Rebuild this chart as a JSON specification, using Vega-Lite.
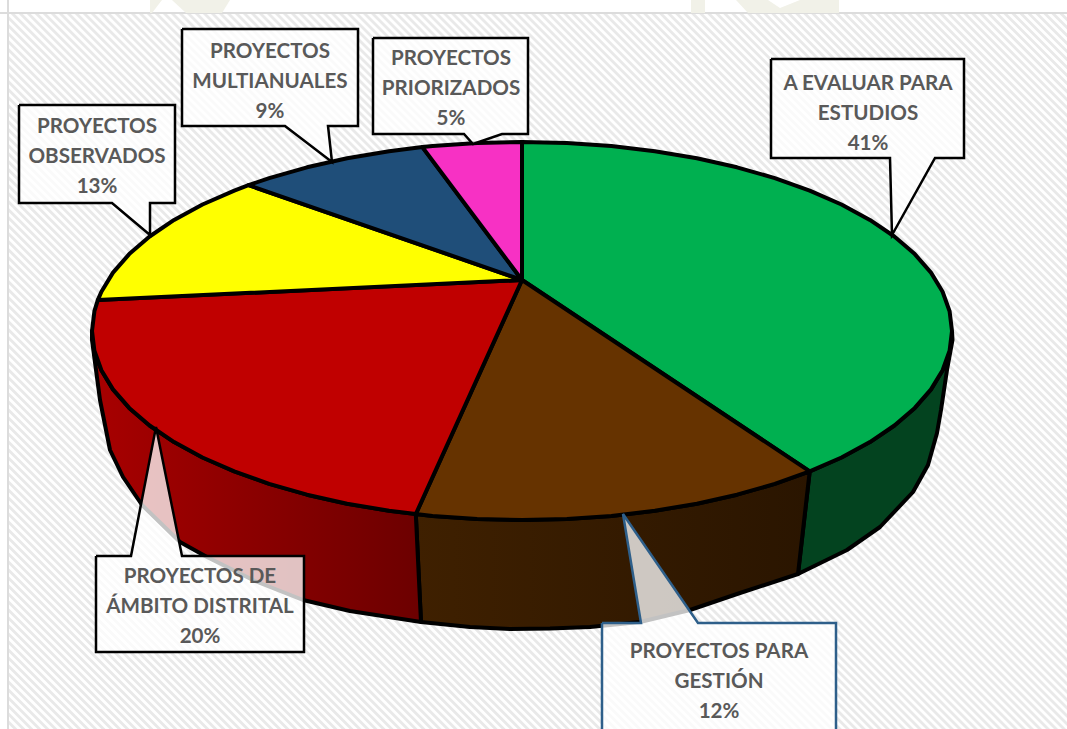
{"$schema":"https://vega.github.io/schema/vega-lite/v6.json","width":1067,"height":729,"padding":0,"autosize":"none","background":"white","view":{"stroke":null},
"config":{"axis":{"domain":false}},
"datasets":{
"hatch":[{"x":-400,"y":1100,"x2":1500,"y2":-800}],
"margin":[{"x":0,"x2":1067,"y":0,"y2":13},{"x":0,"x2":8,"y":0,"y2":729}],
"ghost":[{"g":"a","i":0,"x":150,"y":0},{"g":"a","i":1,"x":162,"y":0},{"g":"a","i":2,"x":152,"y":13},{"g":"a","i":3,"x":150,"y":13},{"g":"b","i":0,"x":172,"y":0},{"g":"b","i":1,"x":230,"y":0},{"g":"b","i":2,"x":222,"y":13},{"g":"b","i":3,"x":186,"y":13},{"g":"c","i":0,"x":691,"y":0},{"g":"c","i":1,"x":705,"y":0},{"g":"c","i":2,"x":705,"y":13},{"g":"c","i":3,"x":691,"y":13},{"g":"d","i":0,"x":736,"y":0},{"g":"d","i":1,"x":768,"y":0},{"g":"d","i":2,"x":780,"y":8},{"g":"d","i":3,"x":800,"y":0},{"g":"d","i":4,"x":839,"y":0},{"g":"d","i":5,"x":839,"y":13},{"g":"d","i":6,"x":748,"y":13}],
"walls":[
{"w":"green","i":0,"x":952,"y":331},{"w":"green","i":1,"x":949.6,"y":350.8},{"w":"green","i":2,"x":942.6,"y":370.3},{"w":"green","i":3,"x":931,"y":389.4},{"w":"green","i":4,"x":914.8,"y":407.9},{"w":"green","i":5,"x":894.4,"y":425.5},{"w":"green","i":6,"x":869.9,"y":442.1},{"w":"green","i":7,"x":841.5,"y":457.5},{"w":"green","i":8,"x":809.7,"y":471.4},{"w":"green","i":9,"x":798,"y":574},{"w":"green","i":10,"x":847,"y":550},{"w":"green","i":11,"x":880,"y":527},{"w":"green","i":12,"x":913,"y":492},{"w":"green","i":13,"x":928,"y":465},{"w":"green","i":14,"x":937,"y":433},{"w":"green","i":15,"x":941,"y":410},{"w":"green","i":16,"x":947,"y":370},{"w":"green","i":17,"x":952.5,"y":340},{"w":"green","i":18,"x":952,"y":331},
{"w":"brown","i":0,"x":809.7,"y":471.4},{"w":"brown","i":1,"x":774.8,"y":483.9},{"w":"brown","i":2,"x":737,"y":494.7},{"w":"brown","i":3,"x":696.9,"y":503.7},{"w":"brown","i":4,"x":654.9,"y":510.8},{"w":"brown","i":5,"x":611.4,"y":515.9},{"w":"brown","i":6,"x":566.9,"y":519},{"w":"brown","i":7,"x":522,"y":520},{"w":"brown","i":8,"x":477.1,"y":519},{"w":"brown","i":9,"x":432.6,"y":515.9},{"w":"brown","i":10,"x":415.8,"y":514.1},{"w":"brown","i":11,"x":421,"y":622},{"w":"brown","i":12,"x":470,"y":627},{"w":"brown","i":13,"x":510,"y":629},{"w":"brown","i":14,"x":550,"y":628.5},{"w":"brown","i":15,"x":590,"y":627},{"w":"brown","i":16,"x":640,"y":622},{"w":"brown","i":17,"x":690,"y":610},{"w":"brown","i":18,"x":740,"y":593},{"w":"brown","i":19,"x":798,"y":574},{"w":"brown","i":20,"x":809.7,"y":471.4},
{"w":"red","i":0,"x":415.8,"y":514.1},{"w":"red","i":1,"x":389.1,"y":510.8},{"w":"red","i":2,"x":347.1,"y":503.7},{"w":"red","i":3,"x":307,"y":494.7},{"w":"red","i":4,"x":269.2,"y":483.9},{"w":"red","i":5,"x":234.3,"y":471.4},{"w":"red","i":6,"x":202.5,"y":457.5},{"w":"red","i":7,"x":174.1,"y":442.1},{"w":"red","i":8,"x":149.6,"y":425.5},{"w":"red","i":9,"x":129.2,"y":407.9},{"w":"red","i":10,"x":113,"y":389.4},{"w":"red","i":11,"x":101.4,"y":370.3},{"w":"red","i":12,"x":94.4,"y":350.8},{"w":"red","i":13,"x":92,"y":331},{"w":"red","i":14,"x":92,"y":340},{"w":"red","i":15,"x":100,"y":400},{"w":"red","i":16,"x":110,"y":450},{"w":"red","i":17,"x":123,"y":477},{"w":"red","i":18,"x":142,"y":505},{"w":"red","i":19,"x":180,"y":542},{"w":"red","i":20,"x":207,"y":557},{"w":"red","i":21,"x":255,"y":581},{"w":"red","i":22,"x":303,"y":600},{"w":"red","i":23,"x":350,"y":611},{"w":"red","i":24,"x":421,"y":622},{"w":"red","i":25,"x":415.8,"y":514.1}],
"slices":[
{"s":"A EVALUAR PARA ESTUDIOS","i":0,"x":522,"y":280},{"s":"A EVALUAR PARA ESTUDIOS","i":1,"x":522,"y":142},{"s":"A EVALUAR PARA ESTUDIOS","i":2,"x":566.9,"y":143},{"s":"A EVALUAR PARA ESTUDIOS","i":3,"x":611.4,"y":146.1},{"s":"A EVALUAR PARA ESTUDIOS","i":4,"x":654.9,"y":151.2},{"s":"A EVALUAR PARA ESTUDIOS","i":5,"x":696.9,"y":158.3},{"s":"A EVALUAR PARA ESTUDIOS","i":6,"x":737,"y":167.3},{"s":"A EVALUAR PARA ESTUDIOS","i":7,"x":774.8,"y":178.1},{"s":"A EVALUAR PARA ESTUDIOS","i":8,"x":809.7,"y":190.6},{"s":"A EVALUAR PARA ESTUDIOS","i":9,"x":841.5,"y":204.5},{"s":"A EVALUAR PARA ESTUDIOS","i":10,"x":869.9,"y":219.9},{"s":"A EVALUAR PARA ESTUDIOS","i":11,"x":894.4,"y":236.5},{"s":"A EVALUAR PARA ESTUDIOS","i":12,"x":914.8,"y":254.1},{"s":"A EVALUAR PARA ESTUDIOS","i":13,"x":931,"y":272.6},{"s":"A EVALUAR PARA ESTUDIOS","i":14,"x":942.6,"y":291.7},{"s":"A EVALUAR PARA ESTUDIOS","i":15,"x":949.6,"y":311.2},{"s":"A EVALUAR PARA ESTUDIOS","i":16,"x":952,"y":331},{"s":"A EVALUAR PARA ESTUDIOS","i":17,"x":949.6,"y":350.8},{"s":"A EVALUAR PARA ESTUDIOS","i":18,"x":942.6,"y":370.3},{"s":"A EVALUAR PARA ESTUDIOS","i":19,"x":931,"y":389.4},{"s":"A EVALUAR PARA ESTUDIOS","i":20,"x":914.8,"y":407.9},{"s":"A EVALUAR PARA ESTUDIOS","i":21,"x":894.4,"y":425.5},{"s":"A EVALUAR PARA ESTUDIOS","i":22,"x":869.9,"y":442.1},{"s":"A EVALUAR PARA ESTUDIOS","i":23,"x":841.5,"y":457.5},{"s":"A EVALUAR PARA ESTUDIOS","i":24,"x":809.7,"y":471.4},{"s":"A EVALUAR PARA ESTUDIOS","i":25,"x":522,"y":280},
{"s":"PROYECTOS PARA GESTIÓN","i":0,"x":522,"y":280},{"s":"PROYECTOS PARA GESTIÓN","i":1,"x":809.7,"y":471.4},{"s":"PROYECTOS PARA GESTIÓN","i":2,"x":774.8,"y":483.9},{"s":"PROYECTOS PARA GESTIÓN","i":3,"x":737,"y":494.7},{"s":"PROYECTOS PARA GESTIÓN","i":4,"x":696.9,"y":503.7},{"s":"PROYECTOS PARA GESTIÓN","i":5,"x":654.9,"y":510.8},{"s":"PROYECTOS PARA GESTIÓN","i":6,"x":611.4,"y":515.9},{"s":"PROYECTOS PARA GESTIÓN","i":7,"x":566.9,"y":519},{"s":"PROYECTOS PARA GESTIÓN","i":8,"x":522,"y":520},{"s":"PROYECTOS PARA GESTIÓN","i":9,"x":477.1,"y":519},{"s":"PROYECTOS PARA GESTIÓN","i":10,"x":432.6,"y":515.9},{"s":"PROYECTOS PARA GESTIÓN","i":11,"x":415.8,"y":514.1},{"s":"PROYECTOS PARA GESTIÓN","i":12,"x":522,"y":280},
{"s":"PROYECTOS DE ÁMBITO DISTRITAL","i":0,"x":522,"y":280},{"s":"PROYECTOS DE ÁMBITO DISTRITAL","i":1,"x":415.8,"y":514.1},{"s":"PROYECTOS DE ÁMBITO DISTRITAL","i":2,"x":389.1,"y":510.8},{"s":"PROYECTOS DE ÁMBITO DISTRITAL","i":3,"x":347.1,"y":503.7},{"s":"PROYECTOS DE ÁMBITO DISTRITAL","i":4,"x":307,"y":494.7},{"s":"PROYECTOS DE ÁMBITO DISTRITAL","i":5,"x":269.2,"y":483.9},{"s":"PROYECTOS DE ÁMBITO DISTRITAL","i":6,"x":234.3,"y":471.4},{"s":"PROYECTOS DE ÁMBITO DISTRITAL","i":7,"x":202.5,"y":457.5},{"s":"PROYECTOS DE ÁMBITO DISTRITAL","i":8,"x":174.1,"y":442.1},{"s":"PROYECTOS DE ÁMBITO DISTRITAL","i":9,"x":149.6,"y":425.5},{"s":"PROYECTOS DE ÁMBITO DISTRITAL","i":10,"x":129.2,"y":407.9},{"s":"PROYECTOS DE ÁMBITO DISTRITAL","i":11,"x":113,"y":389.4},{"s":"PROYECTOS DE ÁMBITO DISTRITAL","i":12,"x":101.4,"y":370.3},{"s":"PROYECTOS DE ÁMBITO DISTRITAL","i":13,"x":94.4,"y":350.8},{"s":"PROYECTOS DE ÁMBITO DISTRITAL","i":14,"x":92,"y":331},{"s":"PROYECTOS DE ÁMBITO DISTRITAL","i":15,"x":94.4,"y":311.2},{"s":"PROYECTOS DE ÁMBITO DISTRITAL","i":16,"x":97.8,"y":300.1},{"s":"PROYECTOS DE ÁMBITO DISTRITAL","i":17,"x":522,"y":280},
{"s":"PROYECTOS OBSERVADOS","i":0,"x":522,"y":280},{"s":"PROYECTOS OBSERVADOS","i":1,"x":97.8,"y":300.1},{"s":"PROYECTOS OBSERVADOS","i":2,"x":101.4,"y":291.7},{"s":"PROYECTOS OBSERVADOS","i":3,"x":113,"y":272.6},{"s":"PROYECTOS OBSERVADOS","i":4,"x":129.2,"y":254.1},{"s":"PROYECTOS OBSERVADOS","i":5,"x":149.6,"y":236.5},{"s":"PROYECTOS OBSERVADOS","i":6,"x":174.1,"y":219.9},{"s":"PROYECTOS OBSERVADOS","i":7,"x":202.5,"y":204.5},{"s":"PROYECTOS OBSERVADOS","i":8,"x":234.3,"y":190.6},{"s":"PROYECTOS OBSERVADOS","i":9,"x":248.5,"y":185.1},{"s":"PROYECTOS OBSERVADOS","i":10,"x":522,"y":280},
{"s":"PROYECTOS MULTIANUALES","i":0,"x":522,"y":280},{"s":"PROYECTOS MULTIANUALES","i":1,"x":248.5,"y":185.1},{"s":"PROYECTOS MULTIANUALES","i":2,"x":269.2,"y":178.1},{"s":"PROYECTOS MULTIANUALES","i":3,"x":307,"y":167.3},{"s":"PROYECTOS MULTIANUALES","i":4,"x":347.1,"y":158.3},{"s":"PROYECTOS MULTIANUALES","i":5,"x":389.1,"y":151.2},{"s":"PROYECTOS MULTIANUALES","i":6,"x":422.4,"y":147.1},{"s":"PROYECTOS MULTIANUALES","i":7,"x":522,"y":280},
{"s":"PROYECTOS PRIORIZADOS","i":0,"x":522,"y":280},{"s":"PROYECTOS PRIORIZADOS","i":1,"x":422.4,"y":147.1},{"s":"PROYECTOS PRIORIZADOS","i":2,"x":432.6,"y":146.1},{"s":"PROYECTOS PRIORIZADOS","i":3,"x":477.1,"y":143},{"s":"PROYECTOS PRIORIZADOS","i":4,"x":522,"y":142},{"s":"PROYECTOS PRIORIZADOS","i":5,"x":522,"y":280}],
"callouts":[
{"c":"eval","o":"black","i":0,"x":771,"y":59},{"c":"eval","o":"black","i":1,"x":964,"y":59},{"c":"eval","o":"black","i":2,"x":964,"y":158},{"c":"eval","o":"black","i":3,"x":935,"y":158},{"c":"eval","o":"black","i":4,"x":892,"y":235},{"c":"eval","o":"black","i":5,"x":890,"y":158},{"c":"eval","o":"black","i":6,"x":771,"y":158},{"c":"eval","o":"black","i":7,"x":771,"y":59},
{"c":"prio","o":"black","i":0,"x":373,"y":38},{"c":"prio","o":"black","i":1,"x":528,"y":38},{"c":"prio","o":"black","i":2,"x":528,"y":134},{"c":"prio","o":"black","i":3,"x":502,"y":134},{"c":"prio","o":"black","i":4,"x":473,"y":144},{"c":"prio","o":"black","i":5,"x":464,"y":134},{"c":"prio","o":"black","i":6,"x":373,"y":134},{"c":"prio","o":"black","i":7,"x":373,"y":38},
{"c":"multi","o":"black","i":0,"x":182,"y":29},{"c":"multi","o":"black","i":1,"x":358,"y":29},{"c":"multi","o":"black","i":2,"x":358,"y":126},{"c":"multi","o":"black","i":3,"x":328,"y":126},{"c":"multi","o":"black","i":4,"x":332,"y":162},{"c":"multi","o":"black","i":5,"x":285,"y":126},{"c":"multi","o":"black","i":6,"x":182,"y":126},{"c":"multi","o":"black","i":7,"x":182,"y":29},
{"c":"obs","o":"black","i":0,"x":19,"y":105},{"c":"obs","o":"black","i":1,"x":175,"y":105},{"c":"obs","o":"black","i":2,"x":175,"y":203},{"c":"obs","o":"black","i":3,"x":150,"y":203},{"c":"obs","o":"black","i":4,"x":150,"y":235},{"c":"obs","o":"black","i":5,"x":112,"y":203},{"c":"obs","o":"black","i":6,"x":19,"y":203},{"c":"obs","o":"black","i":7,"x":19,"y":105},
{"c":"dist","o":"black","i":0,"x":96,"y":556},{"c":"dist","o":"black","i":1,"x":131,"y":556},{"c":"dist","o":"black","i":2,"x":156,"y":427},{"c":"dist","o":"black","i":3,"x":182,"y":556},{"c":"dist","o":"black","i":4,"x":304,"y":556},{"c":"dist","o":"black","i":5,"x":304,"y":652},{"c":"dist","o":"black","i":6,"x":96,"y":652},{"c":"dist","o":"black","i":7,"x":96,"y":556},
{"c":"gest","o":"blue","i":0,"x":602,"y":623},{"c":"gest","o":"blue","i":1,"x":641,"y":623},{"c":"gest","o":"blue","i":2,"x":623,"y":514},{"c":"gest","o":"blue","i":3,"x":698,"y":623},{"c":"gest","o":"blue","i":4,"x":836,"y":623},{"c":"gest","o":"blue","i":5,"x":836,"y":760},{"c":"gest","o":"blue","i":6,"x":602,"y":760},{"c":"gest","o":"blue","i":7,"x":602,"y":623}],
"labels":[
{"label":"A EVALUAR PARA\nESTUDIOS\n41%","share":41,"x":868,"y":84},
{"label":"PROYECTOS PARA\nGESTIÓN\n12%","share":12,"x":719,"y":652},
{"label":"PROYECTOS DE\nÁMBITO DISTRITAL\n20%","share":20,"x":200,"y":577},
{"label":"PROYECTOS\nOBSERVADOS\n13%","share":13,"x":97,"y":127},
{"label":"PROYECTOS\nMULTIANUALES\n9%","share":9,"x":270,"y":52},
{"label":"PROYECTOS\nPRIORIZADOS\n5%","share":5,"x":451,"y":59}]
},
"encoding":{
"x":{"field":"x","type":"quantitative","scale":{"domain":[0,1067],"nice":false,"zero":false},"axis":null},
"y":{"field":"y","type":"quantitative","scale":{"domain":[729,0],"nice":false,"zero":false},"axis":null}},
"layer":[
{"data":{"name":"hatch"},"mark":{"type":"rule","stroke":"#e9e9e9","strokeWidth":3000,"strokeDash":[2.83,2.83],"clip":true},"encoding":{"x2":{"field":"x2"},"y2":{"field":"y2"}}},
{"data":{"name":"margin"},"mark":{"type":"rect","fill":"white","clip":true},"encoding":{"x2":{"field":"x2"},"y2":{"field":"y2"}}},
{"data":{"name":"margin"},"transform":[{"filter":"datum.y2 == 13"}],"mark":{"type":"rule","stroke":"#dcdcdc","strokeWidth":2},"encoding":{"x2":{"field":"x2"},"y":{"field":"y2","type":"quantitative"}}},
{"data":{"name":"margin"},"transform":[{"filter":"datum.x2 == 8"}],"mark":{"type":"rule","stroke":"#dcdcdc","strokeWidth":2},"encoding":{"y2":{"field":"y2"},"x":{"field":"x2","type":"quantitative"}}},
{"data":{"name":"ghost"},"mark":{"type":"line","fill":"#f1f1e8","stroke":null,"strokeWidth":0,"clip":true},"encoding":{"detail":{"field":"g"},"order":{"field":"i"}}},
{"data":{"name":"walls"},"transform":[{"filter":"datum.w == 'green'"}],"mark":{"type":"line","fill":"#03431f","stroke":"black","strokeWidth":4,"strokeJoin":"round"},"encoding":{"order":{"field":"i"}}},
{"data":{"name":"walls"},"transform":[{"filter":"datum.w == 'brown'"}],"mark":{"type":"line","fill":{"gradient":"linear","x1":0,"y1":0,"x2":1,"y2":0,"stops":[{"offset":0,"color":"#3f2000"},{"offset":1,"color":"#2a1500"}]},"stroke":"black","strokeWidth":4,"strokeJoin":"round"},"encoding":{"order":{"field":"i"}}},
{"data":{"name":"walls"},"transform":[{"filter":"datum.w == 'red'"}],"mark":{"type":"line","fill":{"gradient":"linear","x1":0,"y1":0,"x2":1,"y2":0,"stops":[{"offset":0,"color":"#a80000"},{"offset":1,"color":"#6c0000"}]},"stroke":"black","strokeWidth":4,"strokeJoin":"round"},"encoding":{"order":{"field":"i"}}},
{"data":{"name":"slices"},"mark":{"type":"line","stroke":"black","strokeWidth":4,"strokeJoin":"round","fill":"#888"},"encoding":{"fill":{"field":"s","type":"nominal","legend":null,"scale":{"domain":["A EVALUAR PARA ESTUDIOS","PROYECTOS PARA GESTIÓN","PROYECTOS DE ÁMBITO DISTRITAL","PROYECTOS OBSERVADOS","PROYECTOS MULTIANUALES","PROYECTOS PRIORIZADOS"],"range":["#00b050","#663300","#c00000","#ffff00","#1f4e79","#f731c4"]}},"detail":{"field":"s"},"order":{"field":"i"}}},
{"data":{"name":"callouts"},"mark":{"type":"line","fill":"white","fillOpacity":0.76,"strokeWidth":2.5,"strokeJoin":"miter","clip":true},"encoding":{"stroke":{"field":"o","type":"nominal","legend":null,"scale":{"domain":["black","blue"],"range":["black","#2e5f8a"]}},"detail":{"field":"c"},"order":{"field":"i"}}},
{"data":{"name":"labels"},"mark":{"type":"text","font":"Lato","fontWeight":"bold","fontSize":20.6,"fill":"#595959","align":"center","baseline":"middle","lineBreak":"\n","lineHeight":30},"encoding":{"text":{"field":"label"}}}
]}
